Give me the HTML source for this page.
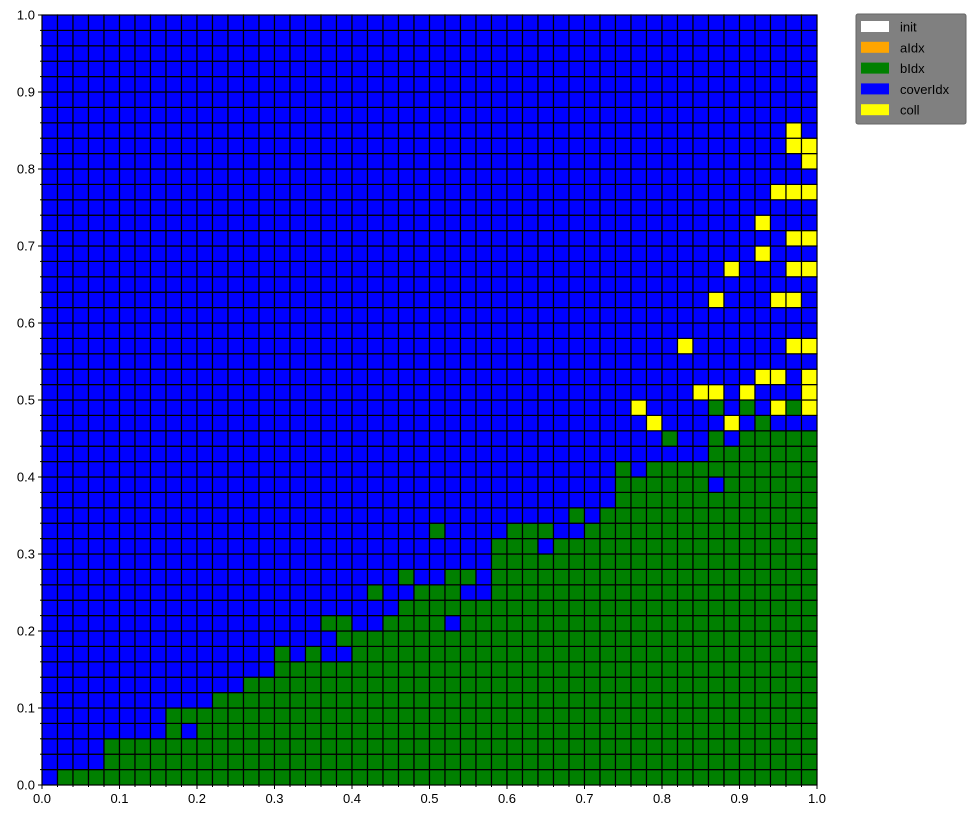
<!DOCTYPE html>
<html><head><meta charset="utf-8">
<style>
html,body{margin:0;padding:0;background:#fff;}
svg{display:block;font-family:"Liberation Sans","DejaVu Sans",sans-serif;}
</style></head>
<body>
<svg id="chart" width="975" height="819" viewBox="0 0 975 819" xmlns="http://www.w3.org/2000/svg">
<g id="cells"></g>
<rect x="42" y="15" width="775" height="770" fill="none" stroke="#000" stroke-width="1"/>
<g id="axes"></g>
<g>
  <rect x="856" y="14" width="110" height="110" rx="2" fill="#808080" stroke="#666"/>
  <g id="legend-items"></g>
</g>
</svg>
<script>
// rows listed from bottom (row 0) to top (row 49); run-length encoded: B=coverIdx, G=bIdx, Y=coll
const rowRuns = [
"B1 G49","B4 G46","B4 G46","B8 G1 B1 G40","B8 G42","B11 G39","B13 G37","B15 G35",
"B15 G1 B1 G1 B2 G30","B19 G31","B18 G2 B2 G4 B1 G23","B23 G27",
"B21 G1 B2 G3 B2 G21","B23 G1 B2 G2 B1 G21","B29 G21","B29 G3 B1 G17",
"B25 G1 B4 G3 B2 G15","B34 G1 B1 G14","B37 G13","B37 G6 B1 G6","B37 G1 B1 G11",
"B43 G7","B40 G1 B2 G1 B1 G5","B39 Y1 B4 Y1 B1 G1 B3",
"B38 Y1 B4 G1 B1 G1 B1 Y1 G1 Y1","B42 Y2 B1 Y1 B3 Y1","B46 Y2 B1 Y1","B50",
"B41 Y1 B6 Y2","B50","B50","B43 Y1 B3 Y2 B1","B50","B44 Y1 B3 Y2","B46 Y1 B3",
"B48 Y2","B46 Y1 B3","B50","B47 Y3","B50","B49 Y1","B48 Y2","B48 Y1 B1",
"B50","B50","B50","B50","B50","B50","B50"
];
const stateColors = {B:"#0000ff", G:"#008000", Y:"#ffff00", O:"#ffa500", W:"#ffffff"};
const stateNames = {B:"coverIdx", G:"bIdx", Y:"coll", O:"aIdx", W:"init"};
const tickValues = [0,0.1,0.2,0.3,0.4,0.5,0.6,0.7,0.8,0.9,1.0];
const tickLabels = ["0.0","0.1","0.2","0.3","0.4","0.5","0.6","0.7","0.8","0.9","1.0"];
const legendLabels = ["init","aIdx","bIdx","coverIdx","coll"];
const legendColors = ["#ffffff","#ffa500","#008000","#0000ff","#ffff00"];
const N = 50;

const NS = "http://www.w3.org/2000/svg";
const X0=42, X1=817, Y0=785, Y1=15;
const sx = v => X0 + v*(X1-X0);
const sy = v => Y0 - v*(Y0-Y1);
function mk(tag, attrs){const e=document.createElementNS(NS,tag);for(const k in attrs)e.setAttribute(k,attrs[k]);return e;}

const cells=document.getElementById('cells');
rowRuns.forEach((runs,r)=>{
  let c=0;
  runs.split(' ').forEach(tok=>{
    const s=tok[0], n=parseInt(tok.slice(1));
    for(let i=0;i<n;i++){
      const x=sx(c/N), x2=sx((c+1)/N), y=sy((r+1)/N), y2=sy(r/N);
      const rc=mk('rect',{x:x,y:y,width:x2-x,height:y2-y,fill:stateColors[s],stroke:'#000','stroke-width':1.2});
      
      
      cells.appendChild(rc);
      c++;
    }
  });
});

const axes=document.getElementById('axes');
for(let i=0;i<=N;i++){
  const v=i/N, major=(i%5===0), L=major?4:2;
  const tx=mk('line',{x1:sx(v),x2:sx(v),y1:Y0,y2:Y0+L,stroke:'#000','stroke-width':1});
  
  
  axes.appendChild(tx);
  const ty=mk('line',{x1:X0-L,x2:X0,y1:sy(v),y2:sy(v),stroke:'#000','stroke-width':1});
  
  
  axes.appendChild(ty);
}
tickValues.forEach((v,i)=>{
  const t=mk('text',{x:sx(v),y:Y0+18,'text-anchor':'middle','font-size':13,fill:'#000'});
  t.textContent=tickLabels[i];
  
  
  axes.appendChild(t);
  const u=mk('text',{x:X0-7,y:sy(v)+4.5,'text-anchor':'end','font-size':13,fill:'#000'});
  u.textContent=tickLabels[i];
  
  
  axes.appendChild(u);
});

const lg=document.getElementById('legend-items');
legendLabels.forEach((lab,i)=>{
  const y=21+i*20.8;
  const p=mk('rect',{x:861,y:y,width:28,height:11,fill:legendColors[i]});
  
  
  lg.appendChild(p);
  const t=mk('text',{x:900,y:y+10.5,'font-size':13,fill:'#000'});
  t.textContent=lab;
  
  
  lg.appendChild(t);
});
</script>
</body></html>
